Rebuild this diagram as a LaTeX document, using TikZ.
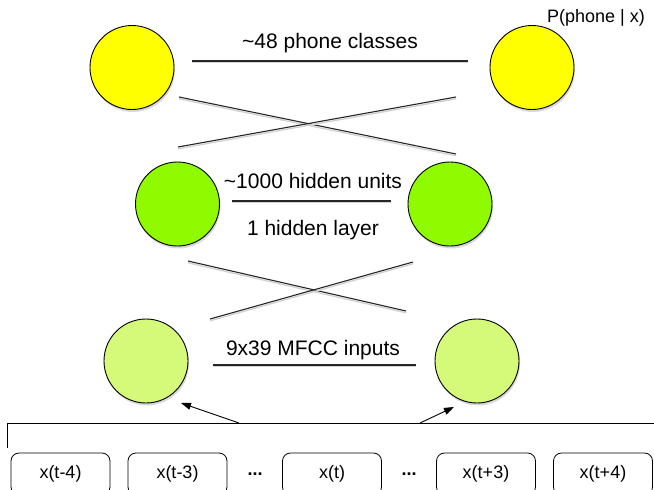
\documentclass[tikz,border=0pt]{standalone}
\usepackage{fontspec}
\setmainfont{Liberation Sans}
\usetikzlibrary{shadows,arrows.meta}
\definecolor{yel}{HTML}{FFFF00}
\definecolor{grn}{HTML}{8FFA00}
\definecolor{lgrn}{HTML}{D5FA7A}
\begin{document}
\begin{tikzpicture}[x=1pt,y=-1pt,
  unit/.style={circle, draw=black, line width=0.9pt, minimum size=84pt, inner sep=0pt,
    drop shadow={opacity=0.3, shadow xshift=1pt, shadow yshift=-2.5pt}},
  wire/.style={line width=1.1pt, draw=black!85, preaction={draw=black!18, line width=1.3pt, transform canvas={yshift=-1.8pt}}},
  lbl/.style={font=\fontsize{21}{24}\selectfont, inner sep=0pt, anchor=base},
  small/.style={font=\fontsize{18}{21}\selectfont, inner sep=0pt, anchor=base},
  inbox/.style={draw, rounded corners=8pt, line width=0.8pt, minimum width=99pt,
    minimum height=42pt, inner sep=0pt, font=\fontsize{18}{21}\selectfont},
  dots/.style={font=\fontsize{18}{21}\selectfont\bfseries, inner sep=0pt},
  arr/.style={line width=0.9pt, -{Triangle[length=10pt,width=7pt]}}
]
\useasboundingbox (0,0) rectangle (654,490);
\clip (0,0) rectangle (654,490);

% units
\node[unit, fill=yel]  (o1) at (132,67.5) {};
\node[unit, fill=yel]  (o2) at (532,67.5) {};
\node[unit, fill=grn]  (h1) at (177.5,204) {};
\node[unit, fill=grn]  (h2) at (450,204) {};
\node[unit, fill=lgrn] (i1) at (146,361) {};
\node[unit, fill=lgrn] (i2) at (477,361) {};

% labels
\node[lbl]   (t1) at (330,48)  {\textasciitilde48 phone classes};
\node[small] (p)  at (596,22)  {P(phone | x)};
\node[lbl]   (t2) at (313,188) {\textasciitilde1000 hidden units};
\node[lbl]   (t3) at (313,235) {1 hidden layer};
\node[lbl]   (t4) at (313,355) {9x39 MFCC inputs};

% layer lines
\coordinate (a1) at (192,61);  \coordinate (a2) at (468,61);
\coordinate (b1) at (232,201); \coordinate (b2) at (391,201);
\coordinate (c1) at (213,365); \coordinate (c2) at (416,365);
\draw[wire] (a1) -- (a2);
\draw[wire] (b1) -- (b2);
\draw[wire] (c1) -- (c2);

% crossings
\coordinate (x1) at (179,97);  \coordinate (x2) at (456,154);
\coordinate (x3) at (178,147); \coordinate (x4) at (456,97);
\coordinate (y1) at (188,261); \coordinate (y2) at (406,311);
\coordinate (y3) at (210,319); \coordinate (y4) at (413,262);
\draw[wire] (x1) -- (x2);
\draw[wire] (x3) -- (x4);
\draw[wire] (y1) -- (y2);
\draw[wire] (y3) -- (y4);

% input boxes
\node[inbox] (b1x) at (60.5,474) {x(t-4)};
\node[inbox] (b2x) at (177.5,474) {x(t-3)};
\node[dots]  (d1)  at (255,474) {...};
\node[inbox] (b3x) at (332,474) {x(t)};
\node[dots]  (d2)  at (409,474) {...};
\node[inbox] (b4x) at (486,474) {x(t+3)};
\node[inbox] (b5x) at (603,474) {x(t+4)};

% bracket
\coordinate (k0) at (7,448);
\coordinate (k1) at (7,423);
\coordinate (k2) at (654,423);
\draw[line width=1pt] (k0) -- (k1) -- (k2);

% arrows
\coordinate (s1) at (239,423);
\coordinate (s2) at (420,423);
\coordinate (e1) at (181,403);
\coordinate (e2) at (454,407);
\draw[arr] (s1) -- (e1);
\draw[arr] (s2) -- (e2);
\end{tikzpicture}
\end{document}
